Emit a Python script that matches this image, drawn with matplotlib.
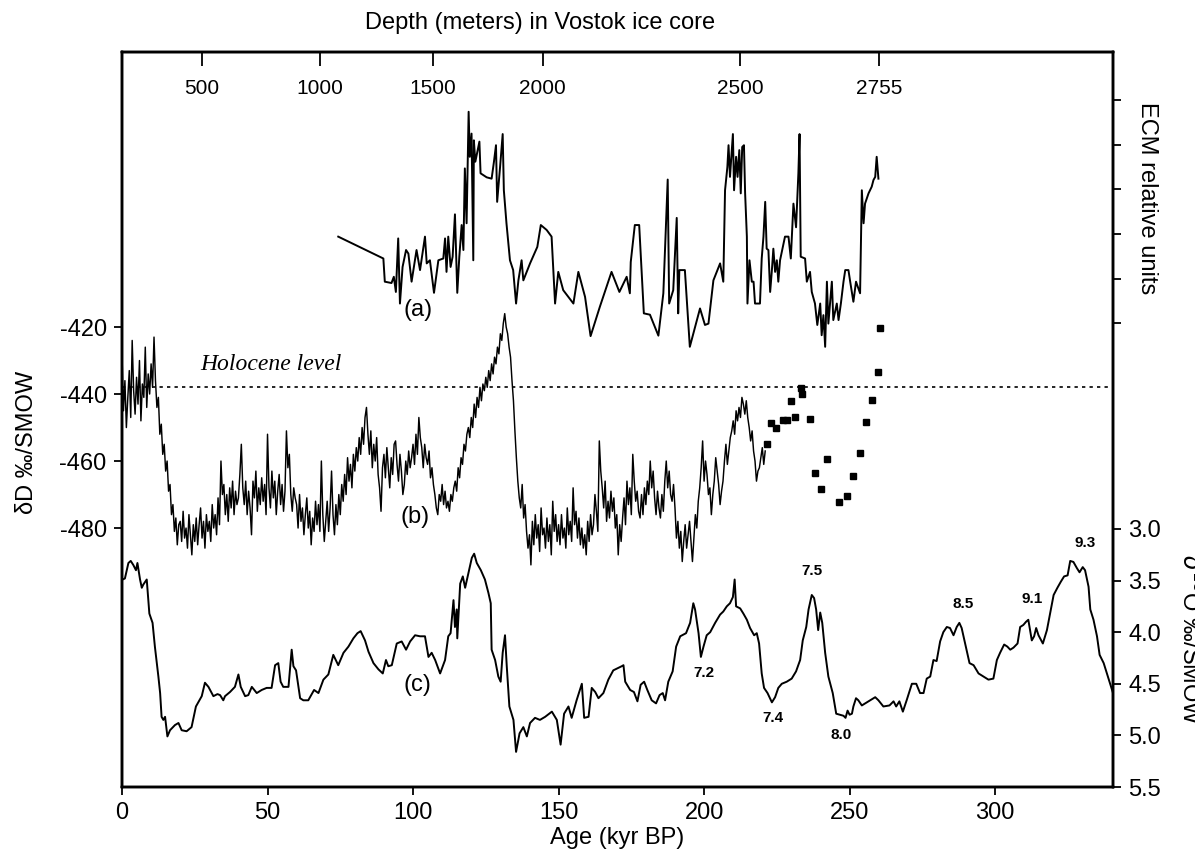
import numpy as np
import matplotlib
matplotlib.use('Agg')
import matplotlib.pyplot as plt
import matplotlib.transforms as mtransforms

plt.rcParams['font.family'] = ['Liberation Sans', 'DejaVu Sans']

# (b) deuterium, Vostok, one value every 0.5 kyr from 0 kyr
dd_val = [
    -428, -445, -436, -450, -441, -433, -447, -424, -439, -446, -435, -443, -430, -448, -437, -441, -426, -444, -434, -440,
    -431, -438, -423, -436, -444, -441, -452, -449, -458, -455, -463, -460, -469, -467, -476, -473, -481, -477, -485, -479,
    -478, -484, -475, -483, -480, -486, -476, -482, -488, -479, -484, -477, -485, -479, -474, -483, -478, -486, -476, -481,
    -478, -484, -473, -480, -476, -482, -471, -479, -460, -470, -467, -476, -470, -478, -468, -474, -466, -476, -469, -473,
    -471, -464, -455, -468, -473, -466, -476, -469, -474, -482, -466, -471, -463, -475, -468, -473, -465, -472, -467, -476,
    -452, -468, -474, -463, -471, -466, -476, -469, -464, -473, -467, -475, -469, -451, -462, -458, -470, -475, -468, -471,
    -473, -480, -470, -478, -474, -482, -476, -471, -480, -475, -485, -477, -481, -472, -479, -473, -481, -460, -476, -484,
    -478, -472, -481, -474, -463, -476, -482, -473, -479, -470, -476, -467, -472, -464, -470, -459, -466, -461, -468, -458,
    -463, -456, -460, -453, -458, -450, -455, -447, -444, -452, -458, -451, -462, -455, -460, -453, -464, -468, -475, -462,
    -458, -465, -456, -462, -468, -459, -464, -455, -454, -461, -466, -458, -463, -470, -467, -460, -464, -457, -462, -459,
    -455, -461, -452, -458, -447, -453, -456, -462, -455, -459, -461, -457, -465, -462, -467, -470, -474, -476, -470, -472,
    -467, -473, -469, -474, -472, -475, -470, -472, -468, -466, -469, -462, -465, -459, -461, -455, -457, -452, -450, -453,
    -447, -450, -443, -447, -441, -444, -438, -442, -437, -439, -435, -438, -433, -436, -431, -434, -429, -431, -426, -428,
    -422, -424, -419, -416, -420, -422, -426, -429, -436, -442, -451, -459, -466, -471, -474, -467, -477, -473, -481, -486,
    -482, -491, -478, -485, -476, -483, -479, -487, -474, -482, -480, -486, -477, -484, -479, -488, -472, -481, -476, -484,
    -479, -485, -476, -483, -480, -486, -474, -482, -478, -484, -468, -479, -475, -483, -477, -485, -480, -486, -482, -488,
    -478, -484, -476, -482, -479, -470, -475, -481, -454, -463, -468, -474, -466, -478, -472, -477, -469, -475, -471, -480,
    -476, -488, -479, -484, -477, -471, -479, -466, -473, -468, -476, -458, -466, -472, -469, -475, -477, -470, -476, -468,
    -473, -466, -470, -460, -468, -463, -471, -476, -469, -474, -477, -470, -475, -466, -460, -468, -463, -470, -472, -467,
    -474, -483, -478, -486, -481, -490, -484, -479, -486, -482, -478, -484, -490, -483, -476, -480, -472, -468, -462, -454,
    -466, -460, -464, -470, -468, -476, -470, -466, -459, -463, -467, -473, -469, -466, -460, -455, -461, -457, -453, -451,
    -448, -452, -445, -448, -444, -447, -441, -443, -446, -442, -447, -450, -454, -451, -457, -460, -466, -463, -462, -459,
    -456, -461, -457,
]
dd_age = np.arange(len(dd_val)) * 0.5

# (b) discrete deep samples (kyr, dD)
dd_squares = [
    (221.6, -454.9), (223.0, -448.6), (224.8, -450.0), (227.1, -447.6), (228.4, -447.6),
    (229.8, -442.0), (231.4, -447.0), (233.4, -438.3), (233.6, -440.0), (236.5, -447.4),
    (238.2, -463.5), (240.1, -468.2), (242.2, -459.5), (246.5, -472.1), (249.1, -470.4),
    (251.1, -464.4), (253.6, -457.7), (255.7, -448.3), (257.6, -441.8), (259.6, -433.3),
    (260.3, -420.4),
]
holocene_level = -438

# (a) ECM, relative units (kyr, value)
ecm = [
    (74.3, 1.94), (89.8, 1.45), (90.3, 0.93), (92.6, 0.90), (93.4, 1.04), (94.1, 0.70), (94.9, 1.90),
    (95.5, 0.44), (96.4, 1.26), (97.6, 1.64), (98.4, 1.56), (99.5, 0.93), (101.2, 1.64), (102.4, 1.19),
    (104.1, 1.94), (104.7, 1.34), (105.8, 1.41), (107.2, 0.68), (108.7, 1.41), (110.4, 1.45), (111.0, 1.90),
    (111.5, 1.15), (112.1, 1.94), (112.9, 1.26), (113.6, 1.49), (114.4, 2.44), (115.2, 0.68), (115.9, 1.49),
    (116.7, 2.20), (117.3, 1.64), (117.8, 3.47), (118.4, 2.24), (119.1, 4.74), (119.5, 3.73), (120.1, 4.25),
    (120.7, 1.41), (120.9, 4.10), (121.4, 3.62), (122.1, 3.84), (122.8, 4.07), (123.2, 3.36), (125.3, 3.27),
    (127.0, 3.24), (127.8, 3.62), (128.5, 3.99), (128.9, 2.72), (129.9, 3.50), (130.8, 4.24), (131.2, 2.98),
    (132.1, 2.24), (133.3, 1.41), (134.4, 1.19), (135.4, 0.44), (136.2, 0.96), (137.3, 1.41), (137.9, 0.96),
    (140.2, 1.34), (142.7, 1.71), (143.9, 2.20), (145.9, 2.09), (147.6, 1.94), (148.8, 0.44), (149.9, 1.15),
    (151.6, 0.74), (155.1, 0.44), (156.8, 1.15), (159.1, 0.59), (161.0, -0.29), (164.2, 0.37), (168.2, 1.15),
    (170.9, 0.70), (173.4, 1.04), (174.5, 0.67), (174.8, 1.37), (176.2, 2.20), (177.7, 2.20), (179.3, 0.22),
    (181.4, 0.19), (184.3, -0.28), (186.0, 0.67), (187.5, 3.22), (188.0, 0.44), (189.4, 0.74), (190.6, 2.36),
    (191.1, 0.22), (191.5, 1.19), (193.4, 1.19), (195.1, -0.53), (198.6, 0.33), (200.3, -0.04), (201.5, -0.01),
    (203.2, 0.96), (205.5, 1.34), (206.6, 0.93), (207.2, 2.98), (208.0, 3.50), (208.4, 3.99), (208.9, 3.28),
    (209.9, 4.24), (210.3, 2.98), (211.0, 3.73), (211.5, 3.28), (212.1, 3.88), (212.6, 2.91), (213.1, 3.95),
    (213.7, 3.99), (214.1, 2.91), (214.7, 1.94), (214.9, 0.44), (215.6, 1.41), (216.4, 0.93), (217.0, 0.93),
    (217.5, 0.44), (219.2, 0.44), (219.8, 1.45), (220.4, 1.94), (221.0, 2.72), (221.5, 1.67), (222.1, 1.64),
    (222.7, 0.70), (223.3, 1.19), (223.8, 1.67), (224.4, 1.15), (225.0, 1.41), (225.5, 0.93), (226.1, 1.41),
    (227.8, 1.94), (229.0, 1.94), (229.8, 1.45), (230.7, 2.68), (231.6, 2.15), (232.4, 3.36), (232.8, 4.24),
    (233.2, 1.49), (234.7, 1.45), (235.3, 0.93), (236.4, 1.15), (237.0, 0.70), (238.1, 0.44), (238.9, -0.04),
    (239.9, 0.44), (240.4, -0.27), (241.0, 0.18), (241.6, -0.53), (242.2, 0.93), (242.7, -0.01), (243.9, 0.93),
    (244.4, 0.07), (245.6, 0.44), (246.2, 0.07), (247.0, 0.44), (247.9, 0.93), (248.5, 1.19), (249.6, 1.19),
    (250.2, 0.93), (251.3, 0.48), (252.2, 0.93), (253.6, 0.67), (254.2, 2.98), (254.8, 2.24), (255.3, 2.68),
    (256.5, 2.91), (257.0, 2.98), (257.6, 3.06), (258.2, 3.21), (258.8, 3.28), (259.3, 3.73), (259.9, 3.24),
]

# (c) marine d18O (kyr, permil)
d18o = [
    (0.2, 3.49), (1.0, 3.48), (2.2, 3.33), (3.0, 3.31), (3.9, 3.35), (4.8, 3.40), (5.3, 3.33), (6.2, 3.49),
    (6.8, 3.57), (7.3, 3.54), (8.5, 3.49), (9.4, 3.82), (10.5, 3.91), (11.3, 4.14), (12.5, 4.43), (13.1, 4.59),
    (13.6, 4.82), (14.2, 4.85), (14.8, 4.82), (15.6, 5.01), (16.5, 4.95), (18.2, 4.90), (19.4, 4.88), (20.5, 4.95),
    (22.2, 4.96), (23.9, 4.92), (25.4, 4.72), (26.6, 4.66), (27.4, 4.62), (28.5, 4.49), (29.7, 4.53), (31.4, 4.62),
    (32.8, 4.60), (33.7, 4.61), (34.8, 4.66), (35.4, 4.62), (37.1, 4.58), (38.8, 4.53), (40.0, 4.41), (40.8, 4.53),
    (42.3, 4.62), (43.4, 4.61), (44.6, 4.53), (46.3, 4.59), (48.0, 4.56), (49.7, 4.54), (51.4, 4.54), (52.6, 4.32),
    (53.7, 4.30), (54.5, 4.48), (55.4, 4.53), (57.2, 4.53), (58.3, 4.17), (58.9, 4.33), (59.8, 4.37), (61.2, 4.64),
    (62.3, 4.66), (64.0, 4.66), (66.0, 4.56), (67.5, 4.59), (69.2, 4.46), (70.9, 4.41), (72.6, 4.22), (74.3, 4.32),
    (76.1, 4.20), (77.8, 4.14), (79.5, 4.06), (80.9, 4.01), (82.0, 3.99), (83.5, 4.08), (84.7, 4.19), (86.4, 4.30),
    (88.1, 4.36), (89.6, 4.40), (90.7, 4.27), (91.5, 4.33), (92.7, 4.32), (94.4, 4.11), (96.1, 4.09), (97.6, 4.17),
    (99.0, 4.09), (100.7, 4.03), (102.4, 4.04), (104.1, 4.04), (105.3, 4.24), (106.4, 4.20), (107.6, 4.27),
    (109.3, 4.40), (111.0, 4.27), (112.1, 4.04), (112.9, 4.01), (113.9, 3.69), (114.4, 3.95), (115.0, 3.78),
    (115.2, 4.06), (116.2, 3.53), (117.1, 3.46), (117.9, 3.57), (119.0, 3.43), (120.2, 3.28), (121.0, 3.24),
    (121.9, 3.33), (123.3, 3.40), (124.7, 3.49), (125.9, 3.62), (126.7, 3.72), (127.0, 4.17), (128.2, 4.27),
    (129.3, 4.43), (130.1, 4.48), (130.8, 4.20), (131.6, 4.03), (132.2, 4.33), (133.1, 4.72), (134.5, 4.85),
    (135.4, 5.16), (136.6, 4.98), (137.9, 4.92), (139.1, 5.01), (140.2, 4.88), (141.9, 4.83), (143.6, 4.85),
    (145.4, 4.82), (147.7, 4.77), (149.4, 4.85), (150.7, 5.09), (151.9, 4.79), (153.4, 4.72), (154.5, 4.83),
    (156.2, 4.66), (158.0, 4.50), (158.8, 4.83), (160.3, 4.82), (161.4, 4.54), (162.6, 4.58), (163.7, 4.64),
    (165.4, 4.59), (167.1, 4.46), (168.8, 4.37), (171.7, 4.33), (172.3, 4.32), (172.9, 4.48), (174.6, 4.56),
    (175.9, 4.58), (177.1, 4.67), (178.2, 4.51), (179.4, 4.48), (180.5, 4.56), (182.0, 4.66), (183.5, 4.69),
    (184.7, 4.61), (185.8, 4.59), (186.6, 4.66), (187.7, 4.48), (189.2, 4.38), (190.4, 4.14), (191.8, 4.04),
    (193.8, 4.01), (195.2, 3.91), (196.3, 3.72), (196.9, 3.78), (198.1, 4.01), (198.9, 4.24), (199.8, 4.14),
    (200.9, 4.03), (202.1, 4.00), (203.8, 3.91), (205.5, 3.83), (206.6, 3.80), (207.8, 3.75), (208.9, 3.72),
    (209.9, 3.66), (210.5, 3.49), (211.0, 3.75), (212.4, 3.77), (213.5, 3.82), (214.7, 3.88), (215.8, 3.96),
    (217.2, 4.03), (218.1, 4.01), (218.9, 4.11), (219.8, 4.40), (220.6, 4.54), (221.8, 4.59), (223.3, 4.68),
    (224.4, 4.63), (225.5, 4.54), (226.7, 4.50), (228.4, 4.48), (230.1, 4.45), (231.6, 4.38), (233.0, 4.27),
    (233.9, 4.08), (235.1, 3.95), (235.9, 3.78), (237.0, 3.64), (237.8, 3.67), (238.5, 3.78), (239.2, 3.98),
    (239.9, 3.81), (240.6, 3.91), (241.6, 4.20), (242.7, 4.43), (244.2, 4.59), (245.4, 4.79), (246.7, 4.80),
    (247.9, 4.81), (248.6, 4.83), (249.3, 4.76), (250.0, 4.80), (250.8, 4.79), (251.3, 4.72), (252.2, 4.64),
    (253.0, 4.66), (254.2, 4.71), (256.5, 4.67), (258.8, 4.63), (259.9, 4.66), (261.6, 4.72), (263.7, 4.71),
    (265.1, 4.67), (266.0, 4.72), (267.1, 4.67), (268.3, 4.77), (269.6, 4.66), (271.4, 4.50), (272.9, 4.50),
    (274.2, 4.59), (275.4, 4.59), (276.5, 4.45), (277.7, 4.43), (278.8, 4.27), (279.9, 4.28), (281.1, 4.09),
    (282.2, 4.00), (283.4, 3.95), (284.5, 3.96), (285.7, 4.03), (286.8, 3.95), (287.7, 3.91), (288.5, 3.96),
    (289.7, 4.11), (291.2, 4.30), (292.6, 4.32), (294.3, 4.40), (296.0, 4.43), (297.7, 4.46), (299.4, 4.45),
    (300.6, 4.27), (301.7, 4.20), (303.1, 4.12), (304.2, 4.14), (305.2, 4.17), (306.3, 4.15), (307.7, 4.11),
    (308.6, 3.95), (309.7, 3.93), (310.6, 3.90), (311.4, 3.88), (312.0, 3.98), (312.6, 4.08), (313.4, 4.04),
    (314.1, 3.96), (314.9, 4.03), (316.4, 4.11), (317.8, 3.98), (318.9, 3.82), (320.1, 3.64), (321.4, 3.57),
    (322.6, 3.51), (323.7, 3.46), (324.9, 3.45), (325.8, 3.31), (326.9, 3.32), (328.1, 3.38), (329.0, 3.42),
    (330.1, 3.37), (330.9, 3.40), (332.1, 3.56), (332.7, 3.78), (333.8, 3.88), (335.0, 4.04), (335.9, 4.22),
    (337.3, 4.30), (338.4, 4.40), (339.5, 4.50), (340.4, 4.58),
]

# isotope stage labels (text, kyr, d18O)
stages = [('7.2', 199.8, 4.40), ('7.4', 223.5, 4.83), ('7.5', 237.0, 3.41), ('8.0', 247.0, 5.00),
          ('8.5', 289.1, 3.73), ('9.1', 312.6, 3.68), ('9.3', 330.9, 3.14)]

# depth scale on top: depth (m) -> age (kyr)
depth_labels = ['500', '1000', '1500', '2000', '2500', '2755']
depth_ages = [27.5, 68.0, 106.7, 144.5, 212.4, 260.0]

age_ticks = [0, 50, 100, 150, 200, 250, 300]
dd_ticks = [-420, -440, -460, -480]
d18o_ticks = [3.0, 3.5, 4.0, 4.5, 5.0, 5.5]
ecm_ticks = [0, 1, 2, 3, 4, 5]

#--------------------------------------

W, H = 1195, 850
fig = plt.figure(figsize=(W / 100, H / 100), dpi=100)
L, R, T, B = 122, 1113, 52, 787
ax = fig.add_axes([L / W, 1 - B / H, (R - L) / W, (B - T) / H])
ax2 = ax.twinx()
ax3 = ax.twinx()

tfs = 17
for a in (ax, ax2, ax3):
    for s in a.spines.values():
        s.set_linewidth(1.7)

# (b)
ax.plot(dd_age, dd_val, color='k', lw=1.05)
sq_age, sq_val = zip(*dd_squares)
ax.plot(sq_age, sq_val, 's', color='k', ms=5)
ax.axhline(holocene_level, color='k', lw=1.2, ls=(0, (2, 2.5)))
ax.text(26.8, -431.3, 'Holocene level', family='Liberation Serif', style='italic',
        fontsize=17, ha='left', va='center')
ax.text(100.7, -476.7, '(b)', fontsize=tfs, ha='center', va='center')

ax.set_xlim(0, 340.5)
ax.set_ylim(-557.3, -337.9)
ax.set_xticks(age_ticks)
ax.set_xticklabels([str(t) for t in age_ticks])
ax.set_yticks(dd_ticks)
ax.set_yticklabels([str(t) for t in dd_ticks])
ax.tick_params(labelsize=tfs, width=1.3, length=6, pad=5)
ax.set_xlabel('Age (kyr BP)', fontsize=tfs, labelpad=2)
fig.text(27 / W, 1 - 442 / H, 'δD ‰/SMOW', rotation=90, fontsize=tfs, ha='center', va='center')

# (c)
c_age, c_val = zip(*d18o)
ax2.plot(c_age, c_val, color='k', lw=1.4)
ax2.set_ylim(5.5, -1.62)
ax2.set_yticks(d18o_ticks)
ax2.set_yticklabels(['%.1f' % t for t in d18o_ticks])
ax2.tick_params(labelsize=tfs, width=1.3, length=6, pad=5)
for txt, x, y in stages:
    ax2.text(x, y, txt, fontsize=11, fontweight='bold', ha='center', va='center')
ax2.text(101.4, 4.51, '(c)', fontsize=tfs, ha='center', va='center')
fig.text(1190 / W, 1 - 640 / H, r'$\delta^{18}$O ‰/SMOW', rotation=-90, fontsize=tfs,
         ha='center', va='center')

# (a)
e_age, e_val = zip(*ecm)
ax3.plot(e_age, e_val, color='k', lw=1.4)
ax3.set_ylim(-10.40, 6.08)
ax3.set_yticks(ecm_ticks)
ax3.set_yticklabels([])
ax3.tick_params(width=1.3, length=6)
ax3.text(101.7, 0.29, '(a)', fontsize=tfs, ha='center', va='center')
fig.text(1147 / W, 1 - 198 / H, 'ECM relative units', rotation=-90, fontsize=tfs,
         ha='center', va='center')

# depth axis
top = ax.secondary_xaxis('top')
top.set_xticks(depth_ages)
top.set_xticklabels([])
top.tick_params(direction='in', length=10, width=1.3)
trans = mtransforms.blended_transform_factory(ax.transData, ax.transAxes)
for lab, x in zip(depth_labels, depth_ages):
    ax.text(x, (B - 88) / (B - T), lab, transform=trans, fontsize=15, ha='center', va='center')
fig.text(540 / W, 1 - 23 / H, 'Depth (meters) in Vostok ice core', fontsize=17,
         ha='center', va='center')

fig.savefig('out.png', dpi=100)
